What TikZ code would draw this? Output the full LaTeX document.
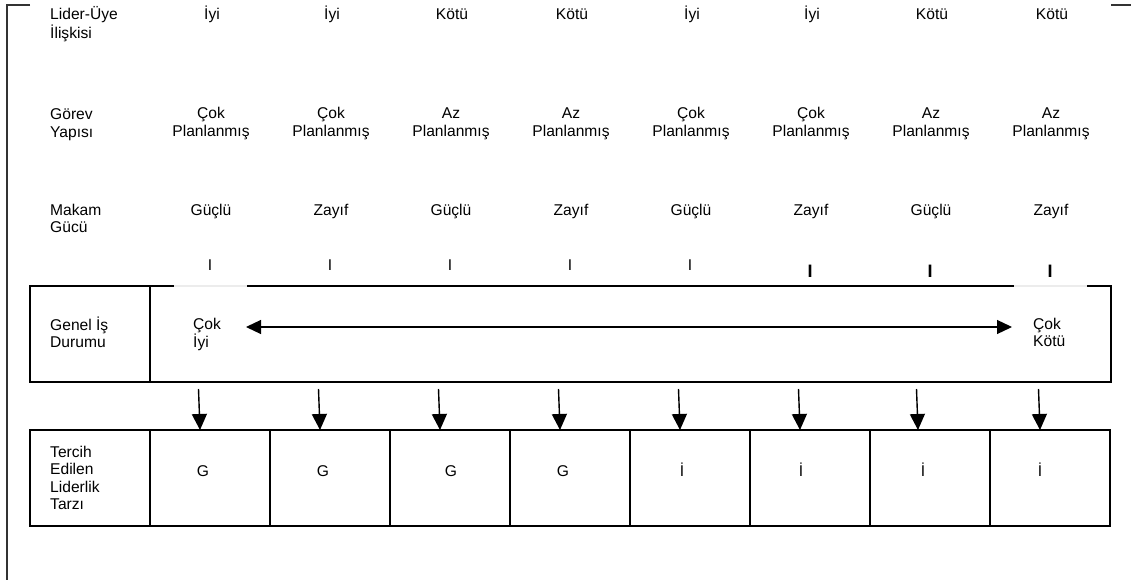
\documentclass[tikz,border=0pt]{standalone}
\usepackage{fontspec}
\setmainfont{Liberation Sans}
\usetikzlibrary{arrows.meta}
% stacked lines whose baseline is that of the first line
\newcommand{\lstack}[1]{\begin{tabular}[t]{@{}l@{}}#1\end{tabular}}
\newcommand{\cstack}[1]{\begin{tabular}[t]{@{}c@{}}#1\end{tabular}}
\begin{document}
\begin{tikzpicture}[x=1pt,y=-1pt,
  txt/.style={inner sep=0pt, font=\fontsize{15.6}{17.5}\selectfont},
  lbl/.style={txt, anchor=base west},
  val/.style={txt, anchor=base},
  frame/.style={draw, line width=1.4pt, inner sep=0pt},
  down/.style={line width=1.4pt, -{Triangle[length=16pt,width=15pt]}},
  span/.style={line width=1.2pt, {Triangle[length=15pt,width=14pt]}-{Triangle[length=15pt,width=14pt]}},
]
\useasboundingbox (0,0) rectangle (1131,580);

% outer bracket
\draw[line width=1.6pt, black!80] (30,5) -- (7,5) -- (7,580);
\draw[line width=1.6pt, black!80] (1111,5) -- (1131,5);

% row labels
\node[lbl] (r1) at (50,20)  {\lstack{Lider-Üye\\İlişkisi}};
\node[lbl] (r2) at (50,120) {\lstack{Görev\\Yapısı}};
\node[lbl] (r3) at (50,215) {\lstack{Makam\\Gücü}};

% situation values per column
\foreach \v [count=\i] in {İyi,İyi,Kötü,Kötü,İyi,İyi,Kötü,Kötü}
  \node[val] (a\i) at (212+120*\i-120,20) {\v};
\foreach \v [count=\i] in {Çok,Çok,Az,Az,Çok,Çok,Az,Az}
  \node[val] (b\i) at (211+120*\i-120,119) {\cstack{\v\\Planlanmış}};
\foreach \v [count=\i] in {Güçlü,Zayıf,Güçlü,Zayıf,Güçlü,Zayıf,Güçlü,Zayıf}
  \node[val] (m\i) at (211+120*\i-120,215) {\v};

% column ticks
\foreach \i in {1,...,5}
  \node[val] (t\i) at (210+120*\i-120,270) {I};
\foreach \i in {6,7,8}
  \node[val, font=\fontsize{18}{20}\selectfont\bfseries] (t\i) at (210+120*\i-120,277) {I};

% general situation box
\node[frame, minimum width=120pt, minimum height=96pt] (gl) at (90,334) {};
\node[frame, minimum width=961pt, minimum height=96pt] (gr) at (630.5,334) {};
\draw[gray!15, line width=2pt] (174,286) -- (247,286);
\draw[gray!15, line width=2pt] (1014,286) -- (1087,286);
\node[lbl] (gt) at (50,330) {\lstack{Genel İş\\Durumu}};
\node[lbl] (gi) at (193,329) {\lstack{Çok\\İyi}};
\node[lbl] (gk) at (1033,329) {\lstack{Çok\\Kötü}};
\coordinate (sl) at (246,327);
\coordinate (sr) at (1012,327);
\draw[span] (sl) -- (sr);

% preferred leadership style row
\node[frame, minimum width=120pt, minimum height=96pt] (pl) at (90,478) {};
\node[lbl] (pt) at (50,457) {\lstack{Tercih\\Edilen\\Liderlik\\Tarzı}};
\foreach \i in {1,...,8}
  \node[frame, minimum width=120pt, minimum height=96pt] (c\i) at (210+120*\i-120,478) {};
\foreach \x/\v [count=\i] in {203/G,323/G,451/G,563/G,682/İ,801/İ,923/İ,1040/İ}
  \node[val] (s\i) at (\x,476) {\v};

% arrows from the situation box to each cell
\foreach \x [count=\i] in {200,320,440,560,680,800,918,1040} {
  \coordinate (u\i) at (\x-1.5,389);
  \coordinate (d\i) at (\x,430);
  \draw[down] (u\i) -- (d\i);
}
\end{tikzpicture}
\end{document}
